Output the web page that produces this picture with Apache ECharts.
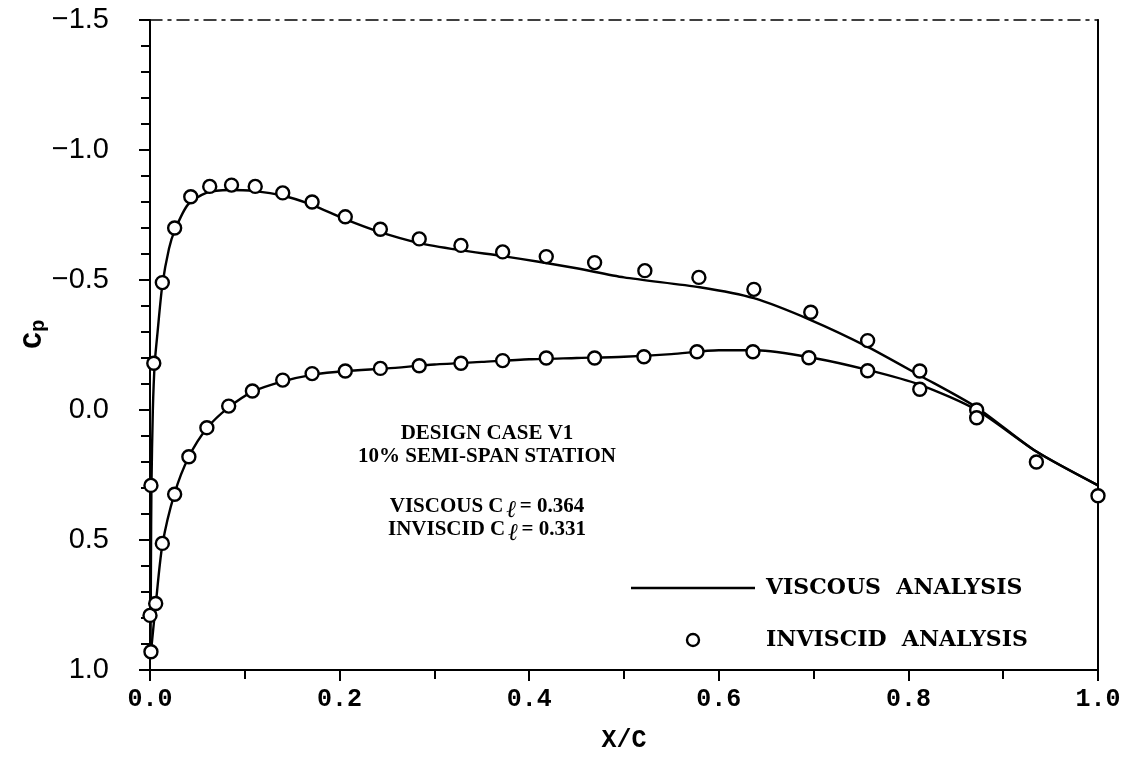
<!DOCTYPE html>
<html>
<head>
<meta charset="utf-8">
<script src="https://cdn.jsdelivr.net/npm/echarts@6/dist/echarts.min.js"></script>
<style>
  html, body { margin: 0; padding: 0; background: #fff; }
  #chart { width: 1139px; height: 768px; }
</style>
</head>
<body>
<div id="chart"></div>
<script>
// viscous analysis, upper surface
const visUpperX  = [0.0005, 0.001, 0.0015, 0.003, 0.005, 0.008, 0.013, 0.02, 0.026, 0.04, 0.06, 0.084, 0.11, 0.14, 0.17, 0.205, 0.242, 0.284, 0.327, 0.372, 0.41, 0.45, 0.5, 0.58, 0.637, 0.697, 0.757, 0.813, 0.872, 0.935, 1.0]
const visUpperCp = [0.95, 0.6, 0.3, 0.0, -0.18, -0.3, -0.48, -0.62, -0.69, -0.79, -0.836, -0.846, -0.842, -0.825, -0.79, -0.735, -0.685, -0.642, -0.615, -0.592, -0.57, -0.545, -0.51, -0.472, -0.43, -0.346, -0.243, -0.131, -0.01, 0.16, 0.29]
// viscous analysis, lower surface
const visLowerX  = [0.0005, 0.006, 0.013, 0.026, 0.041, 0.06, 0.083, 0.108, 0.14, 0.171, 0.206, 0.25, 0.3, 0.35, 0.4, 0.45, 0.5, 0.55, 0.6, 0.64, 0.7, 0.757, 0.813, 0.872, 0.935, 1.0]
const visLowerCp = [0.95, 0.75, 0.52, 0.32, 0.18, 0.07, -0.01, -0.07, -0.11, -0.135, -0.15, -0.16, -0.175, -0.185, -0.195, -0.2, -0.205, -0.215, -0.23, -0.23, -0.2, -0.154, -0.096, 0.0, 0.16, 0.29]
// inviscid analysis, upper surface
const invUpperX  = [0.0, 0.001, 0.004, 0.013, 0.026, 0.043, 0.063, 0.086, 0.111, 0.14, 0.171, 0.206, 0.243, 0.284, 0.328, 0.372, 0.418, 0.469, 0.522, 0.579, 0.637, 0.697, 0.757, 0.812, 0.872, 0.935, 1.0]
const invUpperCp = [0.79, 0.29, -0.18, -0.49, -0.70, -0.82, -0.86, -0.865, -0.86, -0.835, -0.80, -0.743, -0.695, -0.658, -0.633, -0.608, -0.59, -0.567, -0.536, -0.51, -0.464, -0.376, -0.267, -0.15, 0.0, 0.2, 0.33]
// inviscid analysis, lower surface
const invLowerX  = [0.001, 0.006, 0.013, 0.026, 0.041, 0.06, 0.083, 0.108, 0.14, 0.171, 0.206, 0.243, 0.284, 0.328, 0.372, 0.418, 0.469, 0.521, 0.577, 0.636, 0.695, 0.757, 0.812, 0.872]
const invLowerCp = [0.93, 0.744, 0.513, 0.324, 0.18, 0.068, -0.015, -0.073, -0.115, -0.14, -0.15, -0.16, -0.17, -0.18, -0.19, -0.2, -0.2, -0.205, -0.224, -0.224, -0.201, -0.151, -0.08, 0.03]

const noteLines = ['DESIGN CASE V1', '10% SEMI-SPAN STATION']
const clLabels = ['VISCOUS', 'INVISCID']
const clValues = ['0.364', '0.331']

const zip = (xs, ys) => xs.map((x, i) => [x, ys[i]])

const serif = '"Liberation Serif", "DejaVu Serif", serif'
const wideSerif = '"DejaVu Serif", "Liberation Serif", serif'
const mono = '"Liberation Mono", "DejaVu Sans Mono", monospace'

const lineStyle = { color: '#000', width: 2.4 }
const circleStyle = { color: '#fff', borderColor: '#000', borderWidth: 2.4, opacity: 1 }

const chart = echarts.init(document.getElementById('chart'), null, { renderer: 'canvas' })

const option = {
  backgroundColor: '#fff',
  animation: false,
  grid: { left: 150, right: 41, top: 20, bottom: 98 },
  xAxis: [
    {
      type: 'value',
      min: 0,
      max: 1,
      interval: 0.2,
      name: 'X/C',
      nameLocation: 'middle',
      nameGap: 58,
      nameTextStyle: { fontFamily: mono, fontWeight: 'bold', fontSize: 25, color: '#000' },
      axisLine: { onZero: false, lineStyle: { color: '#000', width: 2 } },
      axisTick: { inside: false, length: 11, lineStyle: { color: '#000', width: 2 } },
      minorTick: { show: true, splitNumber: 2, length: 9, lineStyle: { color: '#000', width: 2 } },
      splitLine: { show: false },
      axisLabel: {
        margin: 17,
        fontFamily: mono,
        fontWeight: 'bold',
        fontSize: 25,
        color: '#000',
        formatter: v => v.toFixed(1)
      }
    },
    {
      type: 'value',
      position: 'top',
      min: 0,
      max: 1,
      axisLine: { show: true, onZero: false, lineStyle: { color: '#000', width: 1.5, type: [12, 6, 3, 6] } },
      axisTick: { show: false },
      axisLabel: { show: false },
      splitLine: { show: false }
    }
  ],
  yAxis: [
    {
      type: 'value',
      inverse: true,
      min: -1.5,
      max: 1.0,
      interval: 0.5,
      axisLine: { show: true, onZero: false, lineStyle: { color: '#000', width: 2 } },
      axisTick: { show: true, inside: false, length: 11, lineStyle: { color: '#000', width: 2 } },
      minorTick: { show: true, splitNumber: 5, length: 9, lineStyle: { color: '#000', width: 2 } },
      splitLine: { show: false },
      axisLabel: {
        margin: 41,
        fontFamily: '"Liberation Sans", Arial, sans-serif',
        fontSize: 29,
        color: '#000',
        formatter: v => v.toFixed(1).replace('-', '\u2212')
      }
    },
    {
      type: 'value',
      position: 'right',
      inverse: true,
      min: -1.5,
      max: 1.0,
      axisLine: { show: true, onZero: false, lineStyle: { color: '#000', width: 2 } },
      axisTick: { show: false },
      axisLabel: { show: false },
      splitLine: { show: false }
    }
  ],
  legend: {
    orient: 'vertical',
    left: 626,
    top: 572,
    itemWidth: 124,
    itemHeight: 12,
    itemGap: 30,
    selectedMode: false,
    textStyle: {
      fontFamily: wideSerif,
      fontWeight: 'bold',
      fontSize: 22,
      color: '#000',
      padding: [0, 0, 0, 6]
    },
    data: [
      { name: 'VISCOUS  ANALYSIS', icon: 'path://M0,0 L124,0 L124,2.4 L0,2.4 Z', itemStyle: { color: '#000' } },
      { name: 'INVISCID  ANALYSIS', icon: 'circle', itemStyle: circleStyle }
    ]
  },
  graphic: [
    {
      type: 'text',
      x: 34,
      y: 334,
      rotation: Math.PI / 2,
      style: {
        text: '{c|C}{p|p}',
        textAlign: 'center',
        textVerticalAlign: 'middle',
        rich: {
          c: { fontFamily: mono, fontWeight: 'bold', fontSize: 28, fill: '#000' },
          p: { fontFamily: mono, fontWeight: 'bold', fontSize: 21, fill: '#000', padding: [10, 0, 0, 0] }
        }
      }
    },
    {
      type: 'text',
      x: 487,
      y: 422,
      style: {
        text: noteLines.join('\n'),
        textAlign: 'center',
        fontFamily: serif,
        fontWeight: 'bold',
        fontSize: 21,
        lineHeight: 23,
        fill: '#000'
      }
    },
    ...clLabels.map((lab, i) => ({
      type: 'text',
      x: 487,
      y: 491 + i * 23,
      style: {
        text: lab + ' C{l|\u2113}= ' + clValues[i],
        textAlign: 'center',
        fontFamily: serif,
        fontWeight: 'bold',
        fontSize: 21,
        fill: '#000',
        rich: {
          l: { fontFamily: serif, fontStyle: 'italic', fontWeight: 'bold', fontSize: 24, fill: '#000', padding: [8, 3, 0, 3] }
        }
      }
    }))
  ],
  series: [
    {
      name: 'VISCOUS  ANALYSIS',
      type: 'line',
      data: zip(visUpperX, visUpperCp),
      symbol: 'none',
      smooth: 0.25,
      lineStyle: lineStyle,
      itemStyle: { color: '#000' },
      z: 2
    },
    {
      name: 'VISCOUS  ANALYSIS',
      type: 'line',
      data: zip(visLowerX, visLowerCp),
      symbol: 'none',
      smooth: 0.25,
      lineStyle: lineStyle,
      itemStyle: { color: '#000' },
      z: 2
    },
    {
      name: 'INVISCID  ANALYSIS',
      type: 'scatter',
      data: zip(invUpperX, invUpperCp),
      symbol: 'circle',
      symbolSize: 13,
      itemStyle: circleStyle,
      z: 3
    },
    {
      name: 'INVISCID  ANALYSIS',
      type: 'scatter',
      data: zip(invLowerX, invLowerCp),
      symbol: 'circle',
      symbolSize: 13,
      itemStyle: circleStyle,
      z: 3
    }
  ]
}

chart.setOption(option)
</script>
</body>
</html>
